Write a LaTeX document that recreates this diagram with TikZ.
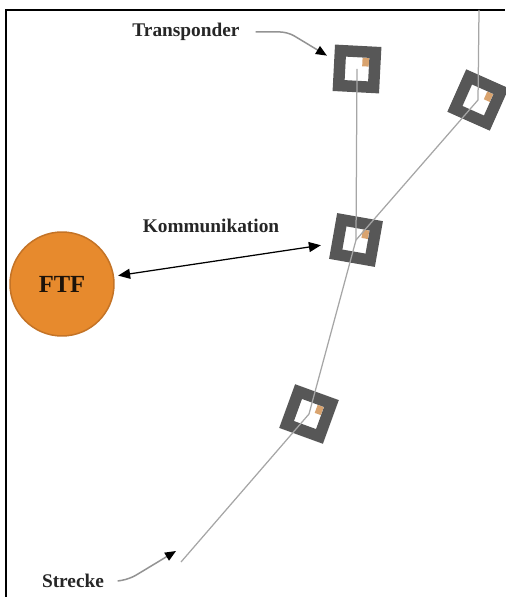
\documentclass[tikz,border=0pt]{standalone}
\usepackage{fontspec}
\setmainfont{Liberation Serif}
\usetikzlibrary{arrows.meta, positioning, calc}

\definecolor{ftforange}{HTML}{E78A2D}
\definecolor{ftfedge}{HTML}{C47326}
\definecolor{tpmark}{HTML}{D9A36E}

\begin{document}
\begin{tikzpicture}[
      x=0.02cm, y=-0.02cm,
      transp/.style={rectangle, draw=black!66, line width=2.3mm, minimum size=7mm, inner sep=0pt,
        path picture={\fill[tpmark] ($(path picture bounding box.center)+(1.0mm,0.6mm)$) rectangle ++(1.3mm,1.7mm);}},
      ftf/.style={circle, draw=ftfedge, fill=ftforange, line width=0.3mm, minimum size=20.8mm, inner sep=0pt,
        font=\bfseries\fontsize{14}{16}\selectfont, text=black!85!brown},
      lbl/.style={font=\bfseries\fontsize{11}{13}\selectfont, text=black!85},
      track/.style={draw=gray!70, line width=0.25mm},
      commarrow/.style={{Triangle[length=2.4mm,width=2mm]}-{Triangle[length=2.4mm,width=2mm]}, line width=0.25mm},
      pointer/.style={-{Triangle[length=2.2mm,width=1.8mm,color=black]}, draw=gray!85, line width=0.3mm, rounded corners=1.5mm}
    ]
    \useasboundingbox (0,0) rectangle (505,597);
    \draw[line width=0.45mm] (6,597) -- (6,10) -- (505,10);

    % transponder along the tracks
    \node[transp, rotate=-3] (t1) at (357,69) {};
    \node[transp, rotate=-24] (t2) at (478,100) {};
    \node[transp, rotate=-10] (t3) at (356,240) {};
    \node[transp, rotate=-20] (t4) at (309,414) {};

    \node[ftf] (ftf) at (62,284) {FTF};

    \coordinate (trackbtop) at (479,10);
    \coordinate (trackend) at (181,562);
    \coordinate (strtip) at (176,551);

    \draw[track] (t1.center) -- (t3.center) -- (t4.center) -- (trackend);
    \draw[track] (trackbtop) -- (t2.center) -- (t3.center);

    \node[lbl] (trlabel) at (186,32) {Transponder};
    \node[lbl] (komlabel) at (211,226) {Kommunikation};
    \node[lbl] (strlabel) at (73,581) {Strecke};

    \draw[commarrow, shorten <=0.8mm, shorten >=2.2mm] (ftf) -- (t3);
    \draw[pointer, shorten >=1.6mm] ([xshift=2mm]trlabel.east) -- ++(32,0) -- ([yshift=1.6mm]t1.west);
    \draw[pointer] ([xshift=1.5mm]strlabel.east) -- ++(12,-2) -- (strtip);
  \end{tikzpicture}
\end{document}
